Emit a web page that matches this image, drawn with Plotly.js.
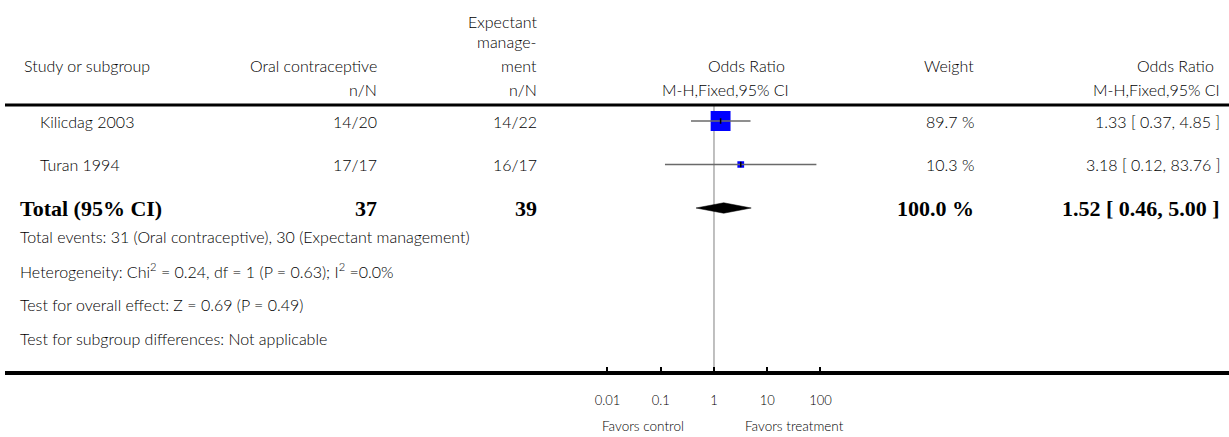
<!DOCTYPE html>
<html><head><meta charset="utf-8">
<script src="https://cdn.plot.ly/plotly-3.0.1.min.js"></script>
<style>html,body{margin:0;padding:0;background:#fff}#chart{width:1229px;height:437px}</style>
</head><body><div id="chart"></div>
<script>
// ---- data ----
const studies = ['Kilicdag 2003', 'Turan 1994'];
const treatNN = ['14/20', '17/17'];
const controlNN = ['14/22', '16/17'];
const orEst = [1.33, 3.18];
const orLo = [0.37, 0.12];
const orHi = [4.85, 83.76];
const weights = [89.7, 10.3];

const totalLabel = 'Total (95% CI)';
const totalTreat = 37;
const totalControl = 39;
const totalWeight = 100.0;
const totalEst = 1.52;
const totalLo = 0.46;
const totalHi = 5.00;

const footnotes = [
  'Total events: 31 (Oral contraceptive), 30 (Expectant management)',
  'Heterogeneity: Chi<sup>2</sup> = 0.24, df = 1 (P = 0.63); I<sup>2</sup> =0.0%',
  'Test for overall effect: Z = 0.69 (P = 0.49)',
  'Test for subgroup differences: Not applicable'
];
const tickVals = [0.01, 0.1, 1, 10, 100];
const tickText = ['0.01', '0.1', '1', '10', '100'];
const favorsLeft = 'Favors control';
const favorsRight = 'Favors treatment';

// ---- layout helpers ----
const W = 1229, H = 437;
const px = x => x / W;
const py = p => 1 - p / H;
const FONT = 'Lato, "Open Sans", sans-serif';
const SERIF = '"Liberation Serif", "DejaVu Serif", serif';
const txtColor = '#000';
const fontN = {family: FONT, size: 16, color: txtColor, weight: 300};
const fontS = {family: FONT, size: 13.5, color: txtColor, weight: 300};
const fontB = {family: SERIF, size: 22, color: '#000', weight: 700};

const rowTop = 121, rowStep = 43.5;   // pixel position of row 0 and spacing
const yTop = -rowTop / rowStep, yBot = (H - rowTop) / rowStep;

// x axis: log scale, 1 at pixel 714, one decade = 53.25 px
const xCenter = 714, decade = 53.25, halfSpan = 2.05;

const fmtCI = (e, l, h) => `${e.toFixed(2)} [ ${l.toFixed(2)}, ${h.toFixed(2)} ]`;
const fmtW = w => `${w.toFixed(1)} %`;

const ann = [];
function A(text, xPix, y, anchor, font, yref) {
  ann.push({text, x: px(xPix), xref: 'paper', y, yref: yref || 'y', xanchor: anchor, yanchor: 'middle',
    showarrow: false, font: font || fontN});
}
// headers
A('Study or subgroup', 22, py(66), 'left', fontN, 'paper');
A('Oral contraceptive', 379, py(66), 'right', fontN, 'paper');
A('Expectant', 539, py(22), 'right', fontN, 'paper');
A('manage-', 539, py(41), 'right', fontN, 'paper');
A('ment', 539, py(66), 'right', fontN, 'paper');
A('Odds Ratio', 787, py(66), 'right', fontN, 'paper');
A('Weight', 976, py(66), 'right', fontN, 'paper');
A('Odds Ratio', 1216, py(66), 'right', fontN, 'paper');
A('n/N', 379, py(89), 'right', fontN, 'paper');
A('n/N', 539, py(89), 'right', fontN, 'paper');
A('M-H,Fixed,95% CI', 791, py(89), 'right', fontN, 'paper');
A('M-H,Fixed,95% CI', 1222, py(89), 'right', fontN, 'paper');

// study rows
studies.forEach((s, i) => {
  A(s, 38, i, 'left');
  A(treatNN[i], 379, i, 'right');
  A(controlNN[i], 539, i, 'right');
  A(fmtW(weights[i]), 976, i, 'right');
  A(fmtCI(orEst[i], orLo[i], orHi[i]), 1222, i, 'right');
});
// total row
const tr = studies.length;
A('<b>' + totalLabel + '</b>', 18, tr, 'left', fontB);
A('<b>' + totalTreat + '</b>', 379, tr, 'right', fontB);
A('<b>' + totalControl + '</b>', 539, tr, 'right', fontB);
A('<b>' + fmtW(totalWeight) + '</b>', 976, tr, 'right', fontB);
A('<b>' + fmtCI(totalEst, totalLo, totalHi) + '</b>', 1222, tr, 'right', fontB);

// footnotes
const footPix = [236, 270, 304, 338];
footnotes.forEach((f, i) => A(f, 18, py(footPix[i]), 'left', fontN, 'paper'));

// favors
A(favorsLeft, 643, py(426), 'center', fontS, 'paper');
A(favorsRight, 794, py(426), 'center', fontS, 'paper');

// ---- traces ----
const rowsY = studies.map((_, i) => i);
const ciX = [], ciY = [];
studies.forEach((_, i) => { ciX.push(orLo[i], orHi[i], null); ciY.push(i, i, null); });
const dh = 0.12;

const traces = [
  {type: 'scatter', mode: 'markers', x: orEst, y: rowsY, hoverinfo: 'skip', opacity: 1,
   marker: {symbol: 'square', color: '#0000ff', opacity: 1, size: weights.map(w => 2.1 * Math.sqrt(w)), line: {width: 0}}},
  {type: 'scatter', mode: 'lines', x: ciX, y: ciY, hoverinfo: 'skip',
   line: {color: '#6a6a6a', width: 1.6}},
  {type: 'scatter', mode: 'markers', x: orEst, y: rowsY, hoverinfo: 'skip',
   marker: {symbol: 'line-ns', size: 4, line: {color: '#000', width: 1.5}}},
  {type: 'scatter', mode: 'lines', fill: 'toself', hoverinfo: 'skip',
   x: [totalLo, totalEst, totalHi, totalEst, totalLo],
   y: [tr, tr - dh, tr, tr + dh, tr],
   fillcolor: '#000', line: {color: '#000', width: 0.5}}
];

const layout = {
  width: W, height: H, margin: {l: 0, r: 0, t: 0, b: 0},
  paper_bgcolor: '#fff', plot_bgcolor: 'rgba(0,0,0,0)', showlegend: false,
  xaxis: {type: 'log', range: [-halfSpan, halfSpan],
    domain: [px(xCenter - halfSpan * decade), px(xCenter + halfSpan * decade)], anchor: 'free', position: py(373),
    showgrid: false, zeroline: false, showline: false, ticks: 'inside', ticklen: 6, tickwidth: 2,
    tickcolor: '#000', tickvals: tickVals, ticktext: tickText, ticklabelstandoff: 18,
    tickfont: {family: FONT, size: 13, color: txtColor, weight: 300}, fixedrange: true},
  yaxis: {range: [yBot, yTop], domain: [0, 1], visible: false, fixedrange: true},
  shapes: [
    {type: 'line', xref: 'paper', yref: 'paper', x0: px(5), x1: 1, y0: py(105), y1: py(105), line: {color: '#000', width: 3}},
    {type: 'line', xref: 'paper', yref: 'paper', x0: px(5), x1: 1, y0: py(373), y1: py(373), line: {color: '#000', width: 4}},
    {type: 'line', xref: 'x', yref: 'paper', x0: 1, x1: 1, y0: py(373), y1: py(106), line: {color: '#808080', width: 1}, layer: 'below'}
  ],
  annotations: ann
};
Plotly.newPlot('chart', traces, layout, {staticPlot: true, displayModeBar: false});
</script>
</body></html>
